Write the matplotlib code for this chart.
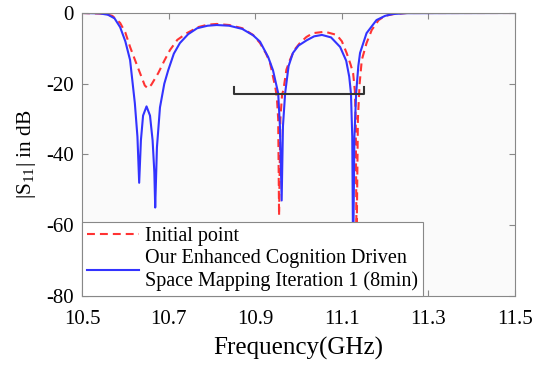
import matplotlib

matplotlib.use("Agg")
import matplotlib.pyplot as plt

plt.rcParams["font.family"] = ["Liberation Serif", "DejaVu Serif"]
plt.rcParams["axes.unicode_minus"] = False
plt.rcParams["mathtext.fontset"] = "custom"
plt.rcParams["mathtext.rm"] = "Liberation Serif"

# values (GHz, dB)
init_freq = [
    10.50, 10.55, 10.57, 10.588, 10.60, 10.611, 10.623, 10.634, 10.645, 10.652,
    10.660, 10.676, 10.690, 10.703, 10.72, 10.742, 10.768, 10.79, 10.811, 10.84,
    10.87, 10.895, 10.911, 10.925, 10.934, 10.941, 10.947, 10.950, 10.953, 10.955,
    10.958, 10.962, 10.965, 10.972, 10.980, 10.990, 11.003, 11.018, 11.033, 11.061,
    11.088, 11.100, 11.111, 11.120, 11.126, 11.130, 11.132, 11.134, 11.137, 11.141,
    11.146, 11.157, 11.169, 11.185, 11.20, 11.22, 11.25, 11.50,
]
init_db = [
    0, -0.2, -0.8, -2.8, -5.5, -9.6, -13.5, -17, -20.5, -21.3,
    -20.3, -17, -13.5, -10.5, -7.6, -5.7, -4, -3.3, -3.1, -3.4,
    -4.3, -6.2, -8.5, -11.5, -14, -18, -21.5, -24, -30, -57.3,
    -30, -23, -21.8, -16, -13.3, -10.5, -8.5, -6.8, -5.7, -5.3,
    -6.2, -8, -11.3, -14.5, -17, -22, -30, -66, -30, -20,
    -13.3, -8.5, -4.8, -2, -0.8, -0.3, 0, 0,
]

ecdsm_freq = [
    10.50, 10.54, 10.56, 10.575, 10.588, 10.60, 10.611, 10.622, 10.628, 10.632,
    10.636, 10.641, 10.649, 10.657, 10.663, 10.667, 10.669, 10.673, 10.680, 10.690,
    10.699, 10.712, 10.726, 10.745, 10.766, 10.79, 10.811, 10.84, 10.87, 10.895,
    10.911, 10.93, 10.941, 10.953, 10.957, 10.961, 10.964, 10.969, 10.977, 10.987,
    11.0, 11.019, 11.036, 11.054, 11.075, 11.096, 11.110, 11.117, 11.121, 11.124,
    11.126, 11.129, 11.133, 11.138, 11.142, 11.157, 11.18, 11.20, 11.218, 11.25, 11.50,
]
ecdsm_db = [
    0, -0.1, -0.5, -1.5, -4, -8, -13.3, -25.5, -35, -48,
    -36, -29, -26.4, -29, -36, -45, -55, -38, -26.7, -20,
    -16.2, -11.5, -8.5, -6, -4.3, -3.6, -3.4, -3.6, -4.5, -6.3,
    -8.1, -12.5, -16.2, -22.7, -32, -53, -32, -22.7, -15, -11.3,
    -9.2, -7.7, -6.6, -6.2, -6.9, -9.6, -13.5, -18, -22.7, -35,
    -70, -35, -22.7, -15, -11.3, -5.7, -2, -0.8, -0.3, -0.05, 0,
]

bracket_freq = [10.85, 10.85, 11.15, 11.15]
bracket_db = [-21, -23, -23, -21]

x_ticks = [10.5, 10.7, 10.9, 11.1, 11.3, 11.5]
y_ticks = [0, -20, -40, -60, -80]

fig = plt.figure(figsize=(5.36, 3.67), dpi=100)
ax = fig.add_axes([0.153, 0.1935, 0.808, 0.7711])
ax.set_facecolor("#fafafa")

ax.plot(init_freq, init_db, color="#ff3333", lw=1.5, ls=(0, (3.8, 2.4)),
        label="Initial point")
ax.plot(ecdsm_freq, ecdsm_db, color="#3333ff", lw=1.5,
        label="Our Enhanced Cognition Driven\nSpace Mapping Iteration 1 (8min)")
ax.plot(bracket_freq, bracket_db, color="#333333", lw=1.5)

ax.set_xlim(10.5, 11.5)
ax.set_ylim(-80, 0)
ax.set_xticks(x_ticks)
ax.set_xticklabels([f"{t:.1f}" for t in x_ticks])
ax.set_yticks(y_ticks)
ax.set_yticklabels([str(t) for t in y_ticks])
ax.tick_params(direction="in", top=True, right=True, labelsize=15, length=4,
               color="#888888")
ax.tick_params(axis="x", pad=10)
ax.tick_params(axis="y", pad=6)
for spine in ax.spines.values():
    spine.set_color("#888888")
    spine.set_linewidth(0.8)

ax.set_xlabel("Frequency(GHz)", fontsize=18, labelpad=6)
ax.set_ylabel(r"|S$_{11}$| in dB", fontsize=15.5, labelpad=6)

leg = ax.legend(loc="lower left", bbox_to_anchor=(0, 0), borderaxespad=0,
                fontsize=14.5, frameon=True, fancybox=False, framealpha=1,
                edgecolor="#888888", handlelength=2.6, handletextpad=0.3,
                labelspacing=0.15, borderpad=0.25)
leg.get_frame().set_linewidth(0.8)

fig.savefig("out.png", dpi=100)
plt.close(fig)
